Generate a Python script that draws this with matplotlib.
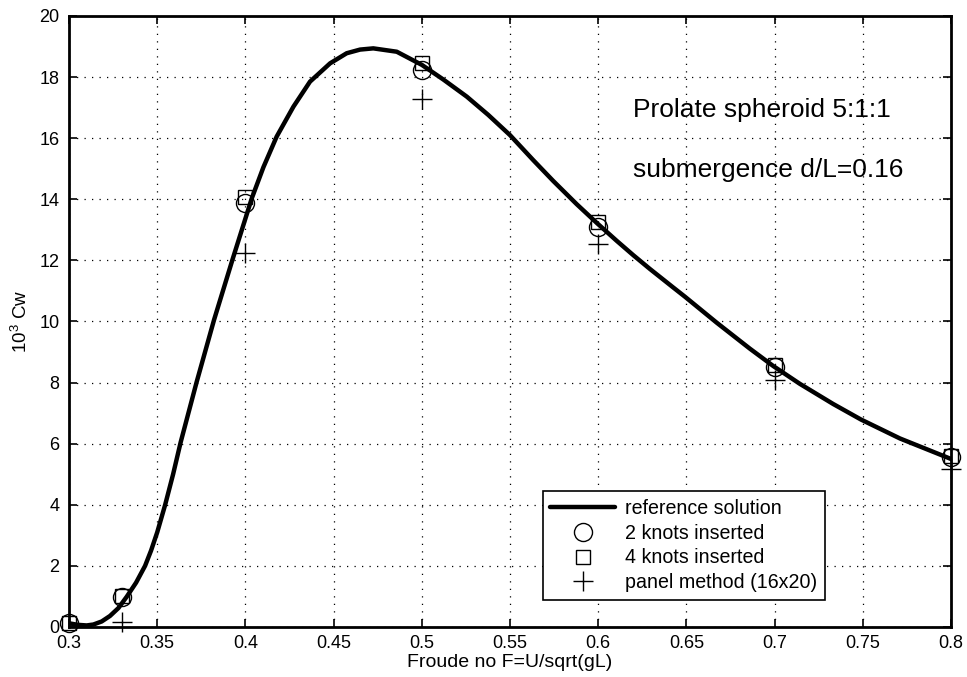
import matplotlib
matplotlib.use("Agg")
import matplotlib.pyplot as plt

plt.rcParams["font.family"] = ["Liberation Sans", "DejaVu Sans"]
plt.rcParams["mathtext.default"] = "regular"

# reference solution
froude_ref = [0.300, 0.305, 0.310, 0.3138, 0.3185, 0.3232, 0.328, 0.3327,
              0.338, 0.3431, 0.3465, 0.3500, 0.3545, 0.359, 0.3633, 0.3724,
              0.3822, 0.3928, 0.4036, 0.4102, 0.4177, 0.4272, 0.4366, 0.448,
              0.4574, 0.465, 0.4725, 0.4858, 0.500, 0.5122, 0.5255, 0.5377,
              0.550, 0.5632, 0.5745, 0.5878, 0.5995, 0.6105, 0.6199, 0.6293,
              0.6426, 0.6492, 0.6672, 0.6860, 0.6993, 0.7143, 0.7332, 0.749,
              0.7711, 0.800]
cw_ref = [0.12, 0.07, 0.05, 0.08, 0.18, 0.36, 0.62, 0.99,
          1.45, 2.00, 2.50, 3.10, 4.00, 5.00, 6.05, 8.03,
          10.05, 12.05, 14.03, 15.05, 16.05, 17.03, 17.85, 18.45,
          18.78, 18.90, 18.94, 18.83, 18.40, 17.92, 17.36, 16.76,
          16.10, 15.28, 14.60, 13.84, 13.21, 12.64, 12.17, 11.72,
          11.11, 10.81, 9.96, 9.11, 8.54, 7.96, 7.30, 6.79,
          6.17, 5.50]

froude_pts = [0.30, 0.33, 0.40, 0.50, 0.60, 0.70, 0.80]
cw_2knots = [0.12, 0.99, 13.89, 18.23, 13.10, 8.50, 5.57]
cw_4knots = [0.14, 1.00, 14.08, 18.45, 13.24, 8.58, 5.60]

froude_panel = [0.33, 0.40, 0.50, 0.60, 0.70, 0.80]
cw_panel = [0.17, 12.25, 17.28, 12.54, 8.10, 5.16]

xticks = [0.3, 0.35, 0.4, 0.45, 0.5, 0.55, 0.6, 0.65, 0.7, 0.75, 0.8]
xtick_labels = ["0.3", "0.35", "0.4", "0.45", "0.5", "0.55", "0.6", "0.65",
                "0.7", "0.75", "0.8"]
yticks = list(range(0, 21, 2))

fig = plt.figure(figsize=(9.67, 6.77), dpi=100)
ax = fig.add_axes([0.0714, 0.0739, 0.912, 0.9025])

ax.plot(froude_ref, cw_ref, color="black", linewidth=3.2,
        solid_capstyle="round", solid_joinstyle="round",
        label="reference solution", zorder=3)
ax.plot(froude_pts, cw_2knots, linestyle="none", marker="o", markersize=13,
        markerfacecolor="none", markeredgecolor="black", markeredgewidth=1.0,
        label="2 knots inserted", zorder=4, clip_on=False)
ax.plot(froude_pts, cw_4knots, linestyle="none", marker="s", markersize=10,
        markerfacecolor="none", markeredgecolor="black", markeredgewidth=1.0,
        label="4 knots inserted", zorder=4, clip_on=False)
ax.plot(froude_panel, cw_panel, linestyle="none", marker="+", markersize=15,
        markeredgecolor="black", markeredgewidth=1.0,
        label="panel method (16x20)", zorder=4, clip_on=False)

ax.set_xlim(0.3, 0.8)
ax.set_ylim(0, 20)
ax.set_xticks(xticks)
ax.set_xticklabels(xtick_labels)
ax.set_yticks(yticks)
ax.tick_params(direction="in", length=6, width=1.2, labelsize=13,
               top=True, right=True)
ax.tick_params(axis="x", pad=6)
ax.tick_params(axis="y", pad=7)
for s in ax.spines.values():
    s.set_linewidth(2.0)
ax.grid(True, color="black", linestyle=(0, (1, 5)), linewidth=0.9)

ax.set_xlabel("Froude no F=U/sqrt(gL)", fontsize=14, labelpad=1)
ax.set_ylabel(r"10$^{3}$ Cw", fontsize=13.5, labelpad=6)

ax.text(0.62, 16.70, "Prolate spheroid 5:1:1", fontsize=19, va="baseline")
ax.text(0.62, 14.74, "submergence d/L=0.16", fontsize=19, va="baseline")

leg = ax.legend(loc="lower left", bbox_to_anchor=(0.537, 0.044), fontsize=14.1,
                fancybox=False, framealpha=1, edgecolor="black",
                handlelength=3.3, borderpad=0.4, labelspacing=0.3,
                handletextpad=0.5, borderaxespad=0)
leg.get_frame().set_linewidth(1.2)

fig.savefig("out.png", dpi=100)
